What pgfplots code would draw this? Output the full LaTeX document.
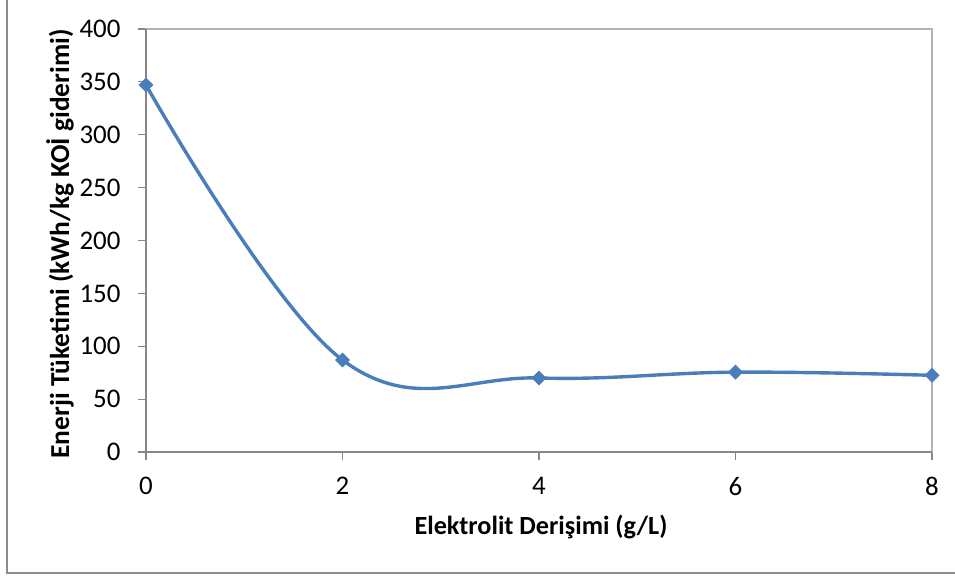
\documentclass[border=0pt]{standalone}
\usepackage{pgfplots}
\pgfplotsset{compat=1.18}
\usepackage{fontspec}
\setmainfont{Carlito}
\definecolor{serieblue}{HTML}{4A7EBB}
\definecolor{axisgray}{HTML}{868686}
\definecolor{boxgray}{HTML}{B3B3B3}
\definecolor{framegray}{HTML}{8C8C8C}

\pgfplotstableread{
x   y
0   347
2   87
4   70
6   75.5
8   72.5
}\energydata

\begin{document}
\begin{tikzpicture}[x=1bp,y=1bp]
\useasboundingbox (0,0) rectangle (955,577);
% chart frame (left and bottom edges)
\draw[framegray, line width=2bp] (7,577) -- (7,4) -- (955,4);
\begin{axis}[
  at={(146bp,125bp)}, anchor=south west,
  scale only axis, width=786bp, height=423bp,
  xmin=0, xmax=8, ymin=0, ymax=400,
  xtick={0,2,4,6,8}, ytick={0,50,...,400},
  axis line style={boxgray, line width=1.2bp},
  tick align=outside, xtick pos=left, ytick pos=left,
  major tick length=8bp,
  tick style={axisgray, line width=1.2bp},
  ticklabel style={font=\fontsize{27}{32}\selectfont},
  yticklabel style={xshift=-14bp},
  xticklabel style={yshift=-14bp},
  /pgf/number format/assume math mode=true,
  xlabel={\textbf{Elektrolit Derişimi (g/L)}},
  ylabel={\textbf{Enerji Tüketimi (kWh/kg KOİ giderimi)}},
  xlabel style={font=\fontsize{26.3}{31}\selectfont, at={(axis description cs:0.5025,-0.1773)}, anchor=center},
  ylabel style={font=\fontsize{27.5}{32}\selectfont, at={(axis description cs:-0.1094,0.492)}, anchor=center},
  clip=false,
]
\draw[axisgray, line width=1.5bp] (rel axis cs:0,1) -- (rel axis cs:0,0) -- (rel axis cs:1,0);
\addplot[serieblue, line width=3.4bp, smooth, tension=0.65,
  mark=square*, mark size=5bp, mark options={rotate=45, fill=serieblue, draw=serieblue, line width=0.5bp}]
  table[x=x, y=y] {\energydata};
\end{axis}
\end{tikzpicture}
\end{document}
